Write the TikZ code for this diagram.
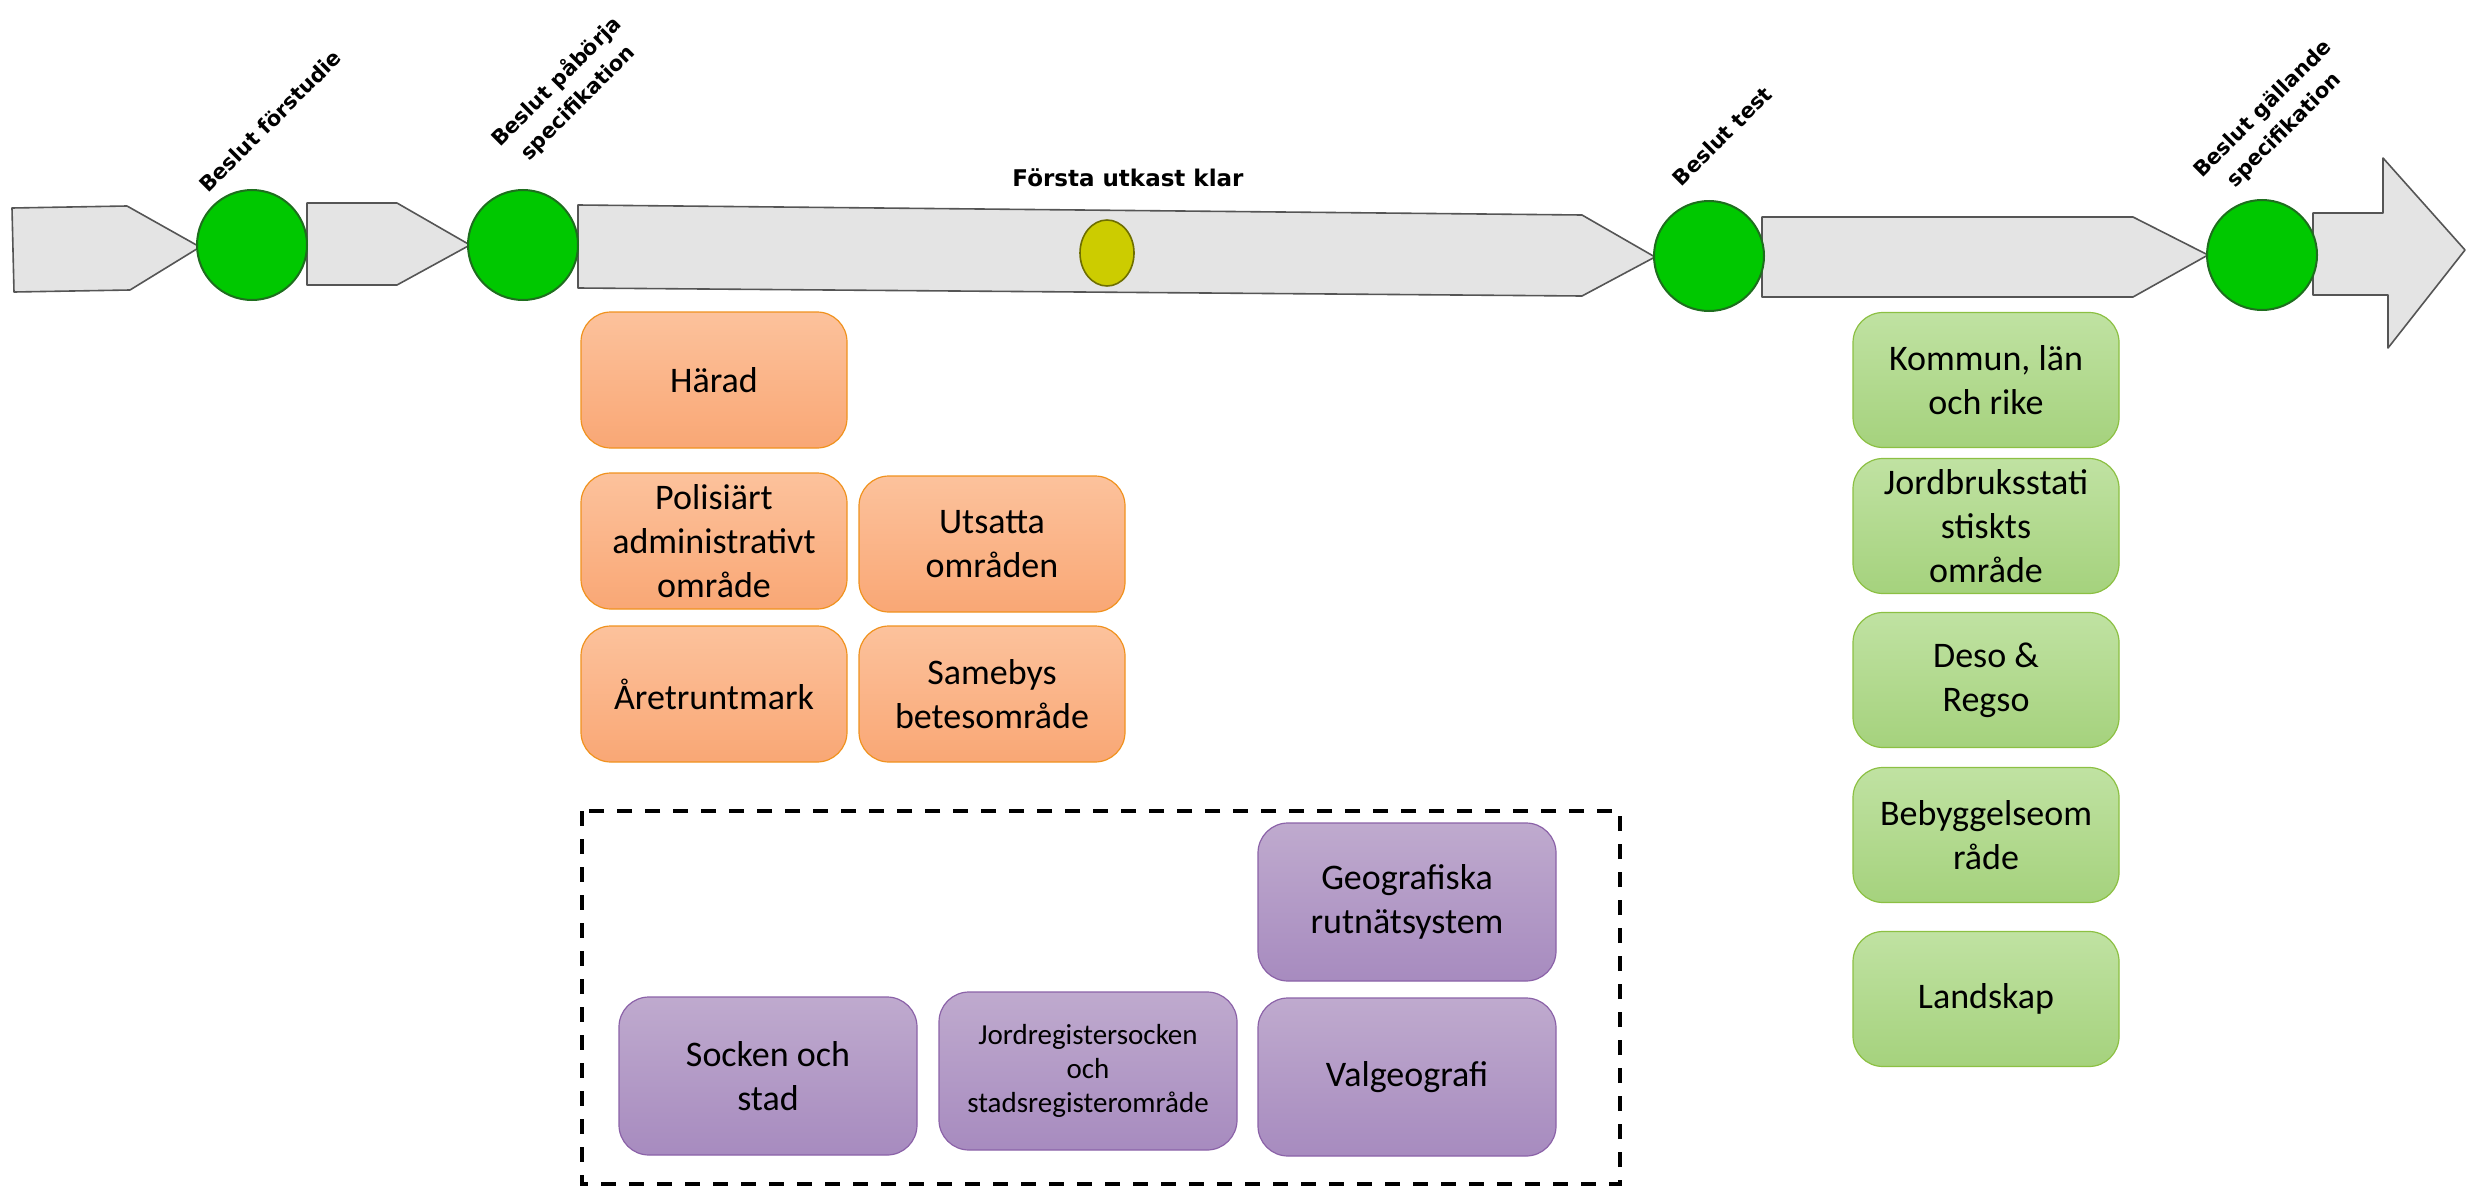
\documentclass[tikz,border=0pt]{standalone}
\usepackage{fontspec}
\setmainfont{Carlito}
\newfontfamily\milefont{DejaVu Sans}
\usetikzlibrary{positioning, shapes.geometric}
\definecolor{arrowfill}{HTML}{E4E4E4}
\definecolor{arrowline}{HTML}{555555}
\definecolor{milegreen}{HTML}{00C800}
\definecolor{mileline}{HTML}{1E6E1E}
\definecolor{midyellow}{HTML}{CCCC00}
\definecolor{midline}{HTML}{6E6E00}
\definecolor{orangetop}{HTML}{FCC29C}
\definecolor{orangebot}{HTML}{F9A775}
\definecolor{orangeline}{HTML}{F0921E}
\definecolor{greentop}{HTML}{C0E2A2}
\definecolor{greenbot}{HTML}{A5D27D}
\definecolor{greenline}{HTML}{8CC043}
\definecolor{purpletop}{HTML}{BFAACE}
\definecolor{purplebot}{HTML}{A78BBF}
\definecolor{purpleline}{HTML}{8B62A8}
\tikzset{
    phase/.style={
           fill=arrowfill,
           draw=arrowline, line width=0.8pt,
           line join=round,
           },
    milestone/.style={
           circle,
           fill=milegreen,
           draw=mileline, line width=1pt,
           minimum size=55pt,
           inner sep=0pt,
           },
    checkpoint/.style={
           ellipse,
           fill=midyellow,
           draw=midline, line width=0.8pt,
           minimum width=27pt, minimum height=33pt,
           inner sep=0pt,
           },
    mlabel/.style={
           rotate=45,
           align=center,
           inner sep=0pt,
           font=\milefont\bfseries\fontsize{10.5}{15}\selectfont,
           },
    area/.style={
           rectangle,
           rounded corners=15pt,
           line width=0.6pt,
           minimum width=133pt,
           minimum height=68pt,
           inner sep=2pt,
           align=center,
           font=\fontsize{18}{22}\selectfont,
           },
    orangebox/.style={area, draw=orangeline, top color=orangetop, bottom color=orangebot},
    greenbox/.style={area, draw=greenline, top color=greentop, bottom color=greenbot, minimum height=67.5pt},
    purplebox/.style={area, draw=purpleline, top color=purpletop, bottom color=purplebot,
           minimum width=149pt, minimum height=79pt},
    dashframe/.style={draw=black, line width=2pt, dash pattern=on 7.5pt off 6.5pt},
}

\begin{document}
\begin{tikzpicture}[x=0.5pt, y=-0.5pt]
  \useasboundingbox (0,0) rectangle (2468,1188);
  % phases
  \draw[phase] (12,208) -- (127,206) -- (200,247) -- (130,290) -- (14,292) -- cycle;
  \draw[phase] (307,203) -- (397,203) -- (470,245) -- (397,285) -- (307,285) -- cycle;
  \draw[phase] (578,205) -- (1582,215) -- (1655,257) -- (1582,296) -- (578,288) -- cycle;
  \draw[phase] (1762,217) -- (2133,217) -- (2208,255) -- (2133,297) -- (1762,297) -- cycle;
  \draw[phase] (2313,213) -- (2383,213) -- (2383,158) -- (2465,250) -- (2388,348)
               -- (2388,295) -- (2313,295) -- cycle;
  % milestones
  \node[milestone]  (forstudie)   at (252,245)  {};
  \node[milestone]  (paborja)     at (523,245)  {};
  \node[checkpoint] (utkast)      at (1107,253) {};
  \node[milestone]  (test)        at (1709,256) {};
  \node[milestone]  (gallande)    at (2262,255) {};
  \node[mlabel] (lforstudie) at (270,121)  {Beslut förstudie};
  \node[mlabel] (lpaborja)   at (567,92)   {Beslut påbörja\\specifikation};
  \node[mlabel] (ltest)      at (1722,136) {Beslut test};
  \node[mlabel] (lgallande)  at (2274,120) {Beslut gällande\\specifikation};
  \node[font=\milefont\bfseries\fontsize{11.5}{14}\selectfont] (lutkast) at (1128,178) {Första utkast klar};
  % orange
  \node[orangebox] (harad)     at (714,380) {Härad};
  \node[orangebox] (polisiart) at (714,541) {Polisiärt\\administrativt\\område};
  \node[orangebox] (utsatta)   at (992,544) {Utsatta\\områden};
  \node[orangebox] (aretrunt)  at (714,694) {Åretruntmark};
  \node[orangebox] (samebys)   at (992,694) {Samebys\\betesområde};
  % green
  \node[greenbox] (kommun)     at (1986,380) {Kommun, län\\och rike};
  \node[greenbox] (jordbruk)   at (1986,526) {Jordbruksstati\\stiskts\\område};
  \node[greenbox] (deso)       at (1986,680) {Deso \&\\Regso};
  \node[greenbox] (bebyggelse) at (1986,835) {Bebyggelseom\\råde};
  \node[greenbox] (landskap)   at (1986,999) {Landskap};
  % purple
  \draw[dashframe] (582,811) rectangle (1620,1184);
  \node[purplebox] (geografiska)  at (1407,902)  {Geografiska\\rutnätsystem};
  \node[purplebox] (socken)       at (768,1076)  {Socken och\\stad};
  \node[purplebox, font=\fontsize{14.5}{17}\selectfont] (jordregister) at (1088,1071)
        {Jordregistersocken\\och\\stadsregisterområde};
  \node[purplebox] (valgeografi)  at (1407,1077) {Valgeografi};
\end{tikzpicture}
\end{document}
